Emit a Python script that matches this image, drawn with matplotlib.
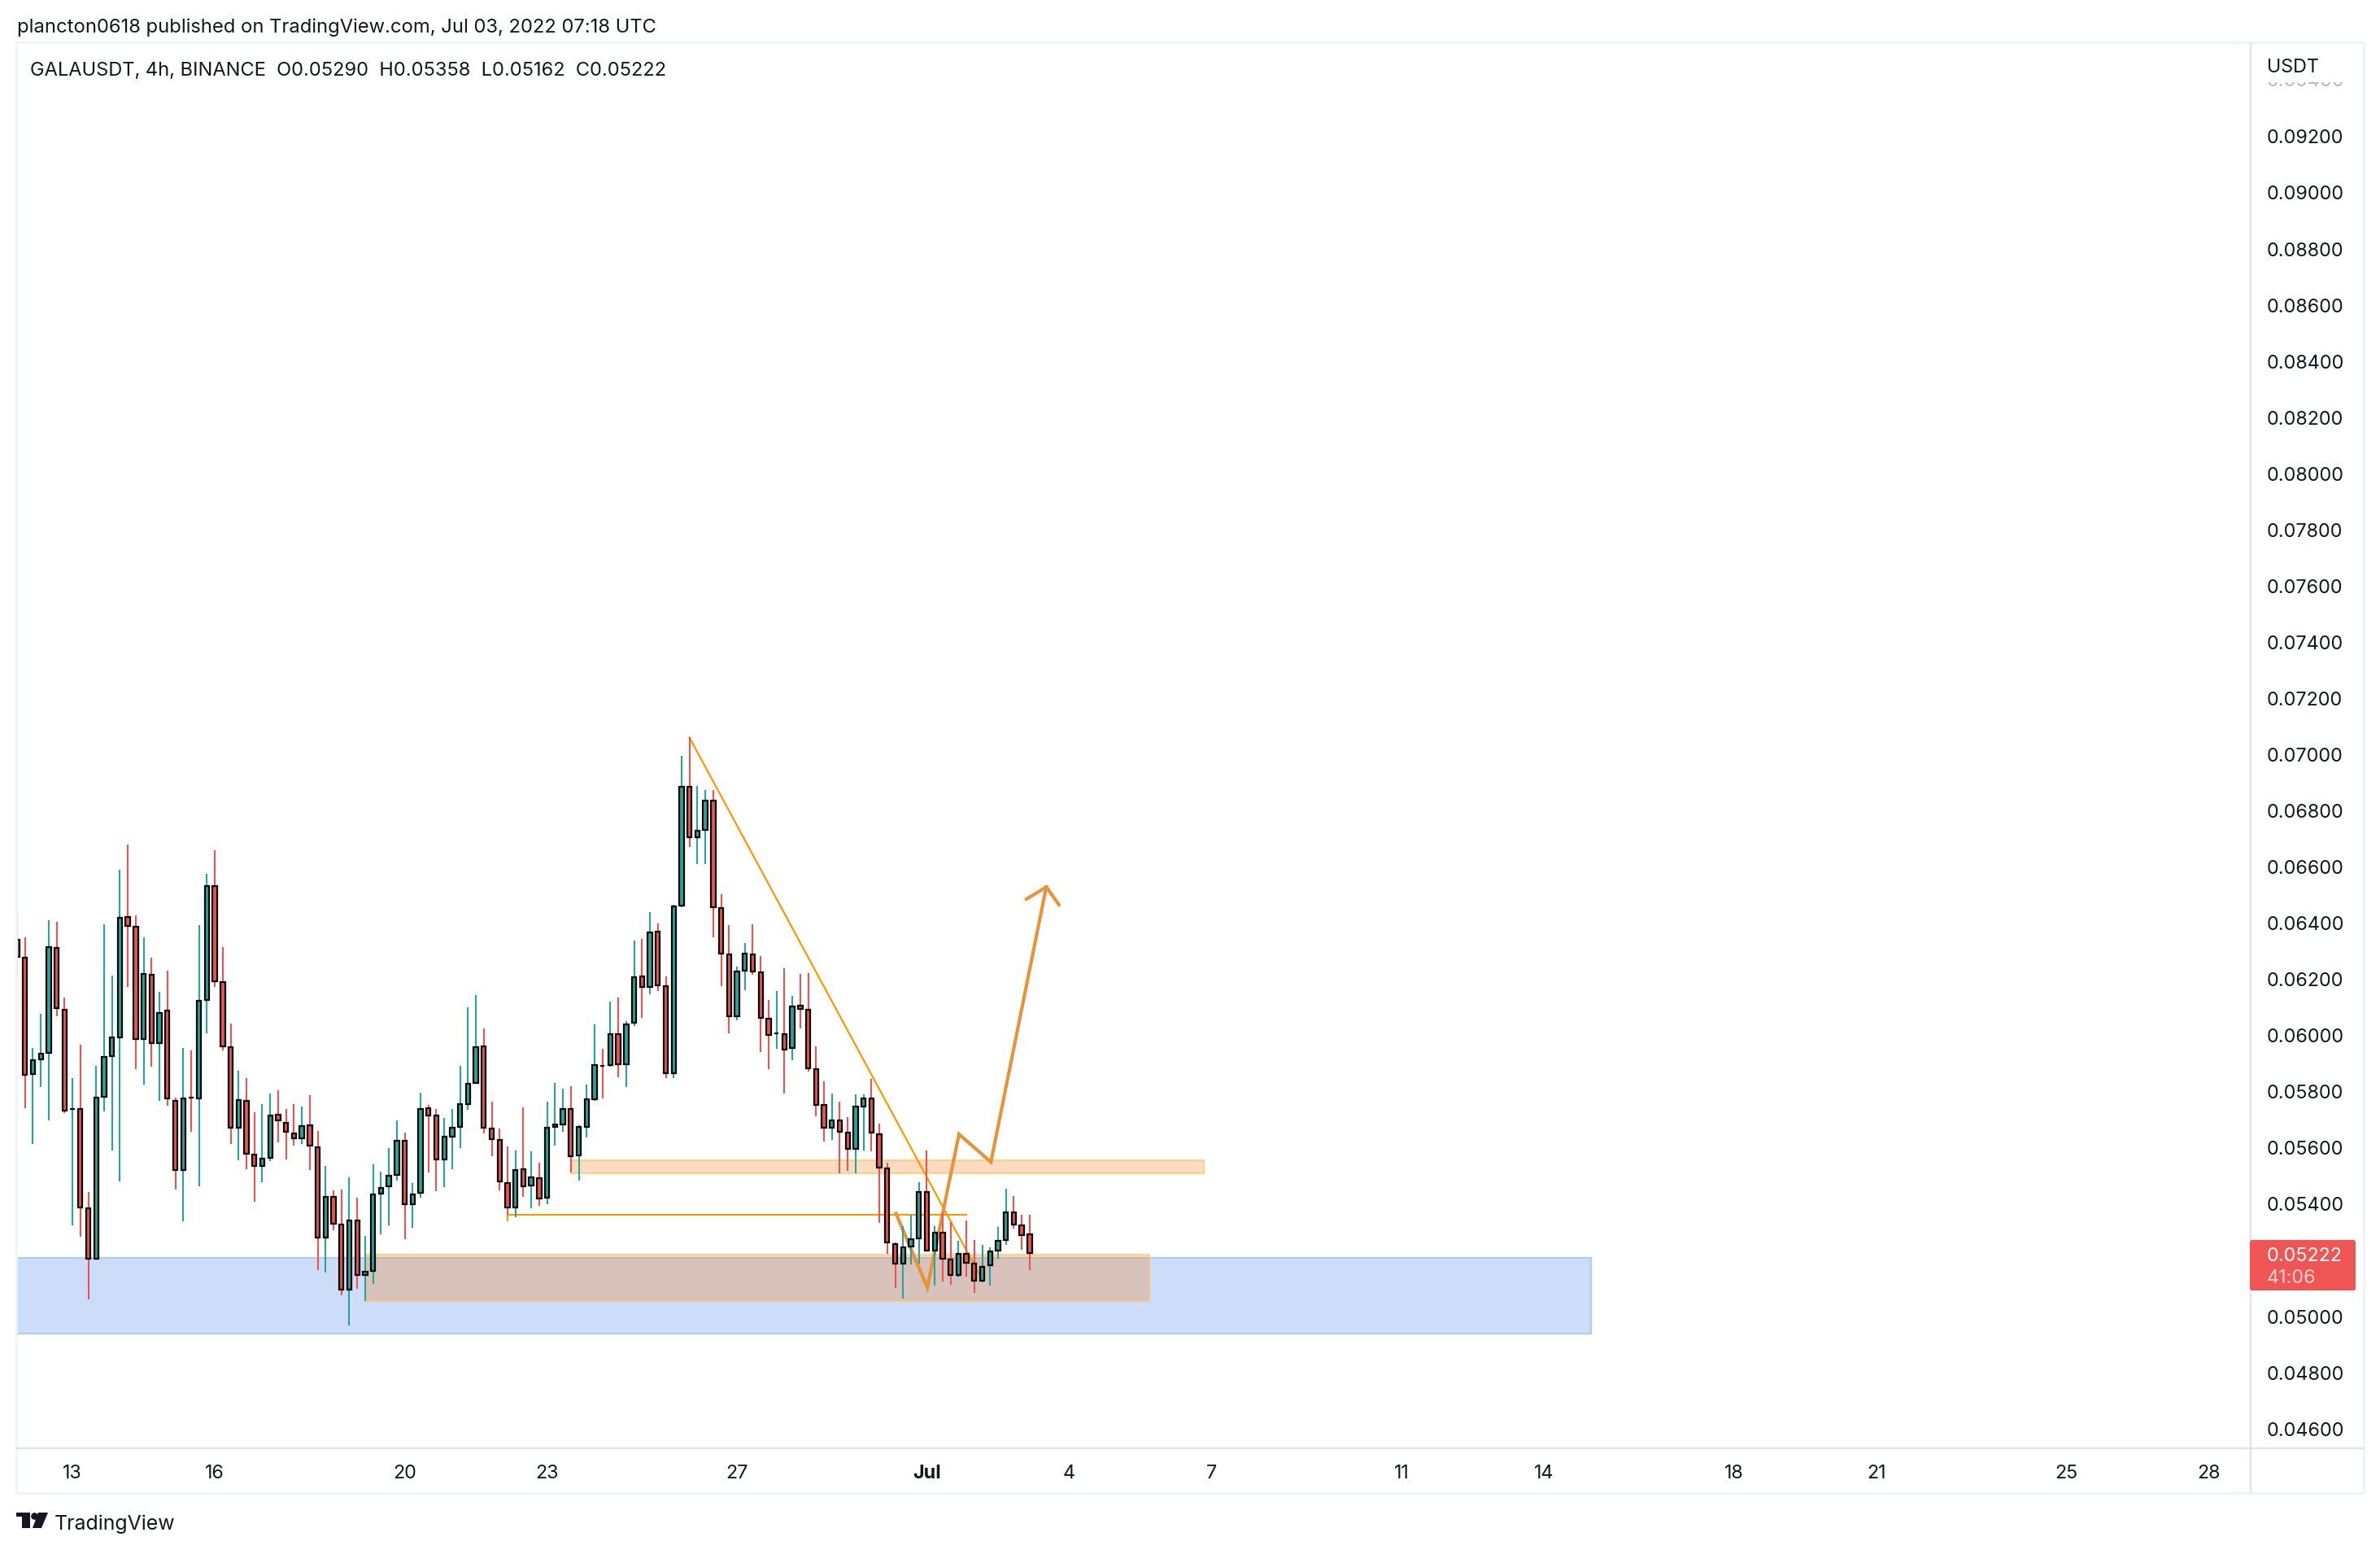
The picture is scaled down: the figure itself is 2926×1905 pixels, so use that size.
import numpy as np
import matplotlib
matplotlib.use("Agg")
import matplotlib.pyplot as plt
from matplotlib.patches import Rectangle, Polygon, Circle, FancyBboxPatch

plt.rcParams['font.family'] = ['Inter', 'DejaVu Sans']

W, H = 2926, 1906
TICK = 1e-5   # prices below are written in ticks of 0.00001

opens = [6337,6274,5861,5912,5936,6309,6089,5735,5736,5383,5204,5779,5923,5991,6420,6384,5985,6214,5971,6087,
         5765,5519,5777,5774,6124,6530,6187,5956,5670,5765,5573,5534,5562,5716,5686,5650,5632,5677,5599,5279,
         5424,5324,5093,5339,5146,5159,5435,5461,5501,5623,5396,5437,5739,5713,5555,5637,5671,5753,5828,5959,
         5666,5626,5473,5385,5521,5463,5490,5419,5671,5681,5737,5570,5671,5770,5890,5892,6002,5895,6042,6207,
         6170,6367,6173,5863,6460,6884,6703,6729,6834,6452,6287,6066,6227,6287,6223,6056,6004,6003,5953,6105,
         6090,5878,5749,5669,5696,5653,5594,5745,5772,5647,5525,5256,5185,5246,5274,5440,5232,5295,5201,5145,
         5220,5185,5125,5180,5232,5269,5368,5321,5290]
highs = [6433,6346,5952,6074,6408,6402,6132,5846,5965,5440,5890,6393,6211,6587,6676,6425,6347,6274,6153,6229,
         5777,5952,5945,6391,6573,6657,6312,6040,5872,5846,5724,5753,5790,5803,5736,5753,5744,5785,5657,5532,
         5445,5449,5493,5420,5284,5539,5513,5597,5695,5652,5472,5793,5750,5735,5703,5735,5889,6098,6141,6022,
         5761,5666,5602,5588,5741,5584,5544,5761,5828,5808,5816,5678,5822,6037,5950,6117,6132,6048,6334,6341,
         6436,6396,6207,6463,6994,7058,6886,6871,6871,6501,6391,6244,6327,6394,6280,6124,6156,6237,6138,6217,
         6219,5959,5835,5791,5762,5708,5788,5788,5844,5684,5545,5260,5319,5359,5475,5588,5319,5366,5334,5266,
         5339,5269,5252,5243,5316,5452,5426,5359,5358]
lows = [6214,5739,5611,5814,5696,6067,5721,5322,5282,5058,5199,5728,5588,5478,6170,5878,5823,5886,5765,5748,
        5449,5336,5655,5460,6005,6170,5945,5611,5553,5522,5406,5475,5550,5617,5557,5606,5611,5519,5162,5154,
        5304,5072,4965,5096,5052,5113,5289,5322,5480,5272,5312,5420,5509,5443,5457,5521,5596,5732,5828,5649,
        5567,5446,5359,5351,5422,5382,5391,5396,5605,5654,5509,5480,5634,5766,5773,5886,5848,5813,6030,6059,
        6144,6156,5845,5845,6453,6668,6608,6608,6348,6174,6005,6052,6159,6214,5939,5878,5950,5791,5910,6022,
        5869,5710,5620,5626,5506,5516,5506,5588,5585,5330,5221,5098,5062,5183,5185,5232,5107,5122,5110,5136,
        5139,5081,5119,5107,5203,5252,5310,5235,5162]
closes = [6276,5856,5910,5934,6312,6096,5731,5736,5386,5204,5777,5921,5991,6417,6388,5985,6217,5969,6078,5772,
          5519,5774,5776,6122,6530,6191,5959,5670,5768,5577,5534,5559,5712,5694,5656,5632,5675,5606,5277,5424,
          5328,5093,5339,5146,5157,5432,5455,5499,5623,5396,5432,5737,5713,5555,5637,5669,5753,5826,5956,5668,
          5628,5478,5385,5519,5460,5492,5417,5669,5681,5737,5568,5671,5771,5893,5889,6002,5895,6038,6205,6170,
          6364,6176,5863,6458,6884,6703,6727,6834,6454,6288,6066,6226,6290,6225,6060,6000,6005,5947,6102,6091,
          5880,5750,5669,5696,5655,5594,5745,5772,5653,5527,5260,5185,5243,5272,5440,5232,5295,5203,5145,5220,
          5188,5125,5174,5229,5266,5368,5324,5287,5222]

price_ticks = [0.046,0.048,0.050,0.052,0.054,0.056,0.058,0.060,0.062,0.064,0.066,0.068,0.070,
               0.072,0.074,0.076,0.078,0.080,0.082,0.084,0.086,0.088,0.090,0.092]
price_labels = ['0.04600','0.04800','0.05000','','0.05400','0.05600','0.05800','0.06000','0.06200','0.06400',
                '0.06600','0.06800','0.07000','0.07200','0.07400','0.07600','0.07800','0.08000','0.08200',
                '0.08400','0.08600','0.08800','0.09000','0.09200']
day_offsets = [0,3,7,10,14,18,21,24,28,31,35,38,42,45]
day_labels = ['13','16','20','23','27','Jul','4','7','11','14','18','21','25','28']
BARS_PER_DAY = 6
FIRST_DAY_BAR = 7

blue_zone = (-5, 199, 4935, 5206)
orange_zone = (44.1, 143.1, 5052, 5217)
peach_zone = (70, 150, 5507, 5553)
h_line_x = [62, 62, 120]
h_line_y = [5340, 5360, 5360]
diag_x = [85, 121.6]
diag_y = [7058, 5149]
path_x = [111.1, 115.07, 119.07, 123.1, 130.1]
path_y = [5364, 5100, 5646, 5547, 6526]
head_x = [127.6, 130.1, 131.7]
head_y = [6483, 6526, 6463]

opens, highs, lows, closes = [np.array(a) * TICK for a in (opens, highs, lows, closes)]
idx = np.arange(len(opens))

DARK = '#131722'
TEAL = '#26a69a'
RED = '#ef5350'
ORANGE = '#ff9800'
PATH = '#e8923a'
ZONE_FILL = (0.957, 0.513, 0.118, 0.28)
ZONE_EDGE = (1.0, 0.76, 0.40, 0.65)
up = closes >= opens
wick_colors = [TEAL if u else RED for u in up]
body_colors = wick_colors

fig = plt.figure(figsize=(W / 100, H / 100), dpi=100, facecolor='white')

L, R, T, B = 21, 2767, 54, 1781
ax = fig.add_axes([L / W, 1 - B / H, (R - L) / W, (B - T) / H], zorder=2)
ax.set_xlim(0, (R - 20.9) / 9.726)
ax.set_ylim(4528 * TICK, 9530 * TICK)
for s in ax.spines.values():
    s.set_visible(False)


def zone(z, fc, ec, order):
    x0, x1, y0, y1 = z
    ax.add_patch(Rectangle((x0, y0 * TICK), x1 - x0, (y1 - y0) * TICK, facecolor=fc,
                           edgecolor=ec, linewidth=1.6, zorder=order))


zone(blue_zone, '#cddcf8', '#abcff8', 1)
zone(orange_zone, ZONE_FILL, ZONE_EDGE, 1.2)
zone(peach_zone, ZONE_FILL, ZONE_EDGE, 1.2)

ax.plot(h_line_x, np.array(h_line_y) * TICK, color=ORANGE, lw=1.5, zorder=2, solid_joinstyle='miter')
ax.plot(diag_x, np.array(diag_y) * TICK, color=ORANGE, lw=1.6, zorder=2)
ax.plot(path_x, np.array(path_y) * TICK, color=PATH, lw=3.0, zorder=2.2, solid_joinstyle='miter')
ax.plot(head_x, np.array(head_y) * TICK, color=PATH, lw=3.0, zorder=2.2, solid_joinstyle='miter')

ax.vlines(idx, lows, highs, colors=wick_colors, linewidth=1.5, zorder=3)
ax.bar(idx, closes - opens, bottom=opens, width=0.55, color=body_colors, edgecolor='black',
       linewidth=1.6, zorder=4)

ax.yaxis.tick_right()
ax.set_yticks(price_ticks)
ax.set_yticklabels(price_labels, fontsize=16.8, color=DARK)
ax.set_xticks([FIRST_DAY_BAR + d * BARS_PER_DAY for d in day_offsets])
ax.set_xticklabels(day_labels, fontsize=16.8, color=DARK)
ax.tick_params(axis='y', length=0, pad=14.4)
ax.tick_params(axis='x', length=0, pad=13.5)
for t in ax.get_xticklabels():
    if t.get_text() == 'Jul':
        t.set_fontweight('bold')

# chrome drawn in pixel coordinates
ch = fig.add_axes([0, 0, 1, 1], zorder=3)
ch.set_xlim(0, W)
ch.set_ylim(H, 0)
ch.axis('off')
ch.patch.set_alpha(0)

OUTER = '#f0f3fa'
INNER = '#e0e3eb'
ch.plot([20, 2906, 2906, 20, 20], [53, 53, 1836, 1836, 53], color=OUTER, lw=2.0)
ch.plot([20, 2905], [1781, 1781], color=INNER, lw=1.6)
ch.plot([2767, 2767], [54, 1835], color=INNER, lw=1.6)

ch.text(21, 34, 'plancton0618 published on TradingView.com, Jul 03, 2022 07:18 UTC',
        fontsize=17.1, color=DARK, va='center', ha='left')
ch.text(37, 87, 'GALAUSDT, 4h, BINANCE  O0.05290  H0.05358  L0.05162  C0.05222',
        fontsize=17.0, color=DARK, va='center', ha='left')

# faded top price label, cut by the currency header
ch.text(2787, 100, '0.09400', fontsize=16.8, color=DARK, alpha=0.3, va='center', ha='left')
ch.add_patch(Rectangle((2770, 56), 134, 46, facecolor='white', edgecolor='none', zorder=5))
ch.text(2787, 83, 'USDT', fontsize=16.8, color=DARK, va='center', ha='left', zorder=6)

# last price tag
ch.add_patch(FancyBboxPatch((2767, 1526), 128, 60, boxstyle='round,pad=0,rounding_size=2',
                            facecolor='#f05555', edgecolor='#f05555', lw=1.5, zorder=5))
ch.text(2787, 1544, '0.05222', fontsize=16.8, color='white', va='center', ha='left', zorder=6)
ch.text(2787, 1571, '41:06', fontsize=16.8, color='#fbd0d0', va='center', ha='left', zorder=6)

# TradingView logo
ch.add_patch(Polygon([(20, 1860), (37, 1860), (37, 1879), (27, 1879), (27, 1865), (20, 1865)],
                     closed=True, facecolor=DARK, edgecolor='none'))
ch.add_patch(Circle((42.5, 1864.5), 4.3, facecolor=DARK, edgecolor='none'))
ch.add_patch(Polygon([(47, 1860), (59, 1860), (51, 1879), (40, 1879)], closed=True,
                     facecolor=DARK, edgecolor='none'))
ch.text(67, 1873, 'TradingView', fontsize=17.9, color=DARK, va='center', ha='left')

fig.savefig('out.png', dpi=100, facecolor='white')
